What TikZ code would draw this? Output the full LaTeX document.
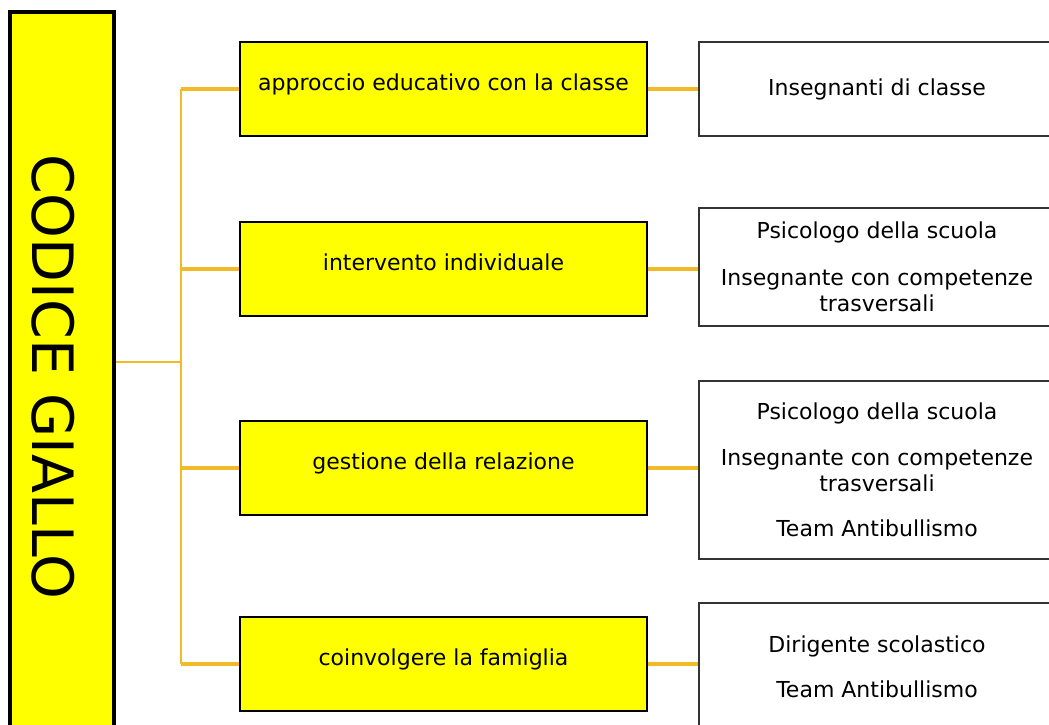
\documentclass[tikz,border=0pt]{standalone}
\usepackage{fontspec}
\setmainfont{DejaVu Sans}
\usepackage{tikz}
\usetikzlibrary{positioning}
\usetikzlibrary{backgrounds}
\definecolor{giallo}{RGB}{255,255,0}
\definecolor{arancio}{RGB}{242,186,38}
\tikzstyle{codice} = [draw, line width=3.5pt, fill=giallo, minimum width=104pt,
  minimum height=730pt, inner sep=0pt]
\tikzstyle{azione} = [draw, line width=1.5pt, fill=giallo, minimum width=407pt,
  minimum height=94pt, font=\fontsize{22}{26}\selectfont]
\tikzstyle{figura} = [draw=black!80, line width=1.5pt, fill=white, minimum width=356pt,
  align=center, font=\fontsize{22}{26}\selectfont]
\tikzstyle{line} = [draw, arancio, line width=3.5pt]
\newcommand{\azione}[3]{node (a#1) [azione] at (443.5,#2)
  {\raisebox{14pt}{#3}}}
\newcommand{\figura}[4]{node (f#1) [figura, minimum height=#3] at (877,#2)
  {#4}}

\begin{document}
\begin{tikzpicture}[x=1pt,y=-1pt]
    \useasboundingbox (0,0) rectangle (1049,724);

    % Draw diagram elements
    \node (codice) [codice] at (62,377)
      {\hspace*{-18pt}\rotatebox{-90}{\fontsize{57}{57}\selectfont CODICE GIALLO}};
    \path \azione{1}{89}{approccio educativo con la classe};
    \path \azione{2}{269}{intervento individuale};
    \path \azione{3}{468}{gestione della relazione};
    \path \azione{4}{664}{coinvolgere la famiglia};
    \path \figura{1}{89}{94pt}{Insegnanti di classe};
    \path \figura{2}{267}{118pt}{Psicologo della scuola\\[21pt]
      Insegnante con competenze\\trasversali};
    \path \figura{3}{470}{178pt}{Psicologo della scuola\\[20pt]
      Insegnante con competenze\\trasversali\\[19pt]Team Antibullismo};
    \path \figura{4}{667}{128pt}{Dirigente scolastico\\[19pt]Team Antibullismo};
    \coordinate (hub) at (181,362);
    % Draw lines between elements
    \begin{scope}[on background layer]
      \path [line, line width=2pt] (hub -| codice.east) -- (hub);
      \path [line, line width=2.5pt] (a1.west -| hub) -- (a4.west -| hub);
      \path [line] (a1.west -| hub) -- (a1.west);
      \path [line] (a2.west -| hub) -- (a2.west);
      \path [line] (a3.west -| hub) -- (a3.west);
      \path [line] (a4.west -| hub) -- (a4.west);
      \path [line] (a1.east) -- (a1.east -| f1.west);
      \path [line] (a2.east) -- (a2.east -| f2.west);
      \path [line] (a3.east) -- (a3.east -| f3.west);
      \path [line] (a4.east) -- (a4.east -| f4.west);
    \end{scope}

\end{tikzpicture}
\end{document}
